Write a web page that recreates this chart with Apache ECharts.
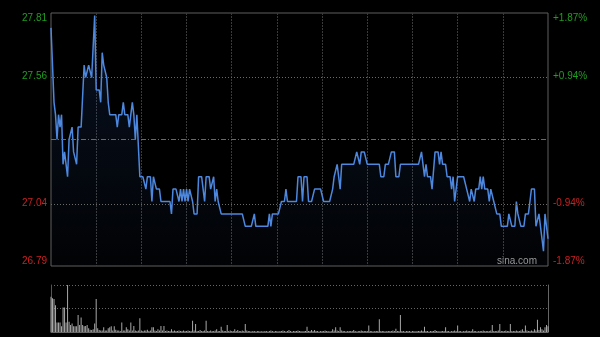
<!DOCTYPE html>
<html>
<head>
<meta charset="utf-8">
<script src="https://cdn.jsdelivr.net/npm/echarts@6/dist/echarts.min.js"></script>
<style>
html,body{margin:0;padding:0;background:#000;}
#chart{width:600px;height:337px;}
</style>
</head>
<body>
<div id="chart"></div>
<script>
const prevClose = 27.30;
const priceMin = 26.79;
const priceMax = 27.81;
const pctMin = -1.87;
const pctMax = 1.87;
const priceTickLabels = ['26.79', '27.04', '27.56', '27.81'];
const pctTickLabels = ['-1.87%', '-0.94%', '+0.94%', '+1.87%'];

const prices = [
27.75,27.60,27.45,27.40,27.30,27.40,27.35,27.40,27.20,27.25,
27.25,27.15,27.30,27.30,27.35,27.25,27.25,27.20,27.35,27.35,
27.35,27.35,27.60,27.55,27.55,27.60,27.60,27.55,27.55,27.80,
27.50,27.50,27.50,27.45,27.65,27.60,27.60,27.55,27.45,27.40,
27.40,27.40,27.40,27.40,27.35,27.40,27.40,27.40,27.45,27.40,
27.40,27.40,27.35,27.40,27.45,27.40,27.30,27.40,27.40,27.15,
27.15,27.15,27.15,27.10,27.15,27.15,27.15,27.05,27.15,27.15,
27.10,27.10,27.10,27.05,27.05,27.05,27.05,27.05,27.05,27.05,
27.00,27.10,27.10,27.10,27.10,27.05,27.10,27.05,27.10,27.05,
27.10,27.05,27.10,27.10,27.05,27.00,27.00,27.00,27.15,27.15,
27.15,27.15,27.05,27.15,27.15,27.15,27.10,27.10,27.15,27.05,
27.10,27.05,27.05,27.00,27.00,27.00,27.00,27.00,27.00,27.00,
27.00,27.00,27.00,27.00,27.00,27.00,27.00,27.00,27.00,26.95,
26.95,26.95,26.95,26.95,26.95,27.00,26.95,26.95,26.95,26.95,
26.95,26.95,26.95,26.95,26.95,27.00,26.95,27.00,27.00,27.00,
27.00,27.00,27.00,27.05,27.05,27.05,27.10,27.05,27.05,27.05,
27.05,27.05,27.05,27.05,27.15,27.15,27.15,27.05,27.15,27.15,
27.15,27.05,27.05,27.05,27.05,27.10,27.10,27.10,27.10,27.10,
27.10,27.05,27.05,27.05,27.05,27.05,27.05,27.10,27.15,27.15,
27.20,27.15,27.10,27.20,27.20,27.20,27.20,27.20,27.20,27.20,
27.20,27.20,27.20,27.25,27.25,27.20,27.25,27.25,27.25,27.25,
27.20,27.20,27.20,27.20,27.20,27.20,27.20,27.20,27.20,27.15,
27.15,27.15,27.20,27.20,27.20,27.20,27.25,27.25,27.25,27.15,
27.15,27.15,27.20,27.20,27.20,27.20,27.20,27.20,27.20,27.20,
27.20,27.20,27.20,27.20,27.20,27.20,27.25,27.20,27.15,27.20,
27.15,27.15,27.15,27.10,27.10,27.25,27.25,27.25,27.20,27.25,
27.20,27.20,27.20,27.15,27.15,27.15,27.10,27.15,27.05,27.10,
27.15,27.15,27.15,27.15,27.15,27.15,27.10,27.10,27.05,27.10,
27.10,27.05,27.10,27.10,27.10,27.15,27.10,27.15,27.10,27.10,
27.10,27.05,27.10,27.10,27.05,27.05,27.00,27.00,27.00,26.95,
26.95,26.95,26.95,26.95,27.00,27.00,26.95,26.95,26.95,27.05,
27.00,27.00,26.95,26.95,26.95,27.00,27.00,27.00,27.05,27.10,
27.10,27.10,26.95,26.95,27.00,26.95,26.90,26.85,27.00,26.95,
26.90
];

const volumes = [
75,72,70,57,20,20,20,12,52,52,
20,100,22,15,18,12,12,12,36,15,
31,15,12,13,15,8,5,4,6,18,
70,8,4,3,3,10,3,3,8,10,
12,3,12,5,3,3,2,20,3,3,
10,6,3,20,3,13,3,2,3,29,
3,2,3,3,5,2,3,10,10,3,
2,6,3,13,3,13,2,3,2,2,
6,2,3,2,2,3,2,2,3,2,
2,3,2,2,24,3,17,2,2,4,
2,2,3,24,2,2,3,2,2,3,
6,2,2,11,3,2,2,15,2,3,
2,2,6,2,4,2,2,3,2,17,
3,2,2,1,2,2,1,2,2,1,
2,1,2,2,1,2,3,2,1,2,
2,1,2,2,3,2,1,2,4,2,
1,2,2,2,3,2,2,1,2,2,
11,2,2,4,2,4,2,2,1,2,
2,2,3,2,2,1,2,6,3,10,
3,2,10,3,2,2,1,2,2,2,
2,4,2,1,2,2,3,2,2,2,
2,14,2,2,1,2,2,2,27,2,
2,2,1,2,2,2,2,3,2,7,
2,2,36,2,2,1,2,2,2,1,
2,2,1,2,2,2,3,2,11,2,
2,1,2,2,2,4,2,2,1,2,
2,2,10,2,2,1,2,2,3,2,
14,2,2,1,2,2,3,2,2,2,
6,2,2,1,2,2,2,3,2,2,
2,2,3,15,2,2,2,3,17,2,
2,2,3,2,2,17,2,2,2,3,
2,2,3,6,2,14,3,2,2,3,
2,6,3,26,4,10,6,3,10,15,
12
];

function hhmm(m){const h=Math.floor(m/60),mm=m%60;return (h<10?'0':'')+h+':'+(mm<10?'0':'')+mm;}
const times = [];
for (let m = 570; m <= 720; m++) times.push(hhmm(m));
for (let m = 781; m <= 960; m++) times.push(hhmm(m));

const GREEN = '#1f9e1f';
const RED = '#cc2020';
const q = (priceMax - priceMin) / 4;
const priceTickVals = [priceMin, priceMin + q, priceMax - q, priceMax];
const pq = (pctMax - pctMin) / 4;
const pctTickVals = [pctMin, pctMin + pq, pctMax - pq, pctMax];

function nearestIdx(arr, v){let b=0;for(let i=1;i<arr.length;i++){if(Math.abs(arr[i]-v)<Math.abs(arr[b]-v))b=i;}return b;}

const chart = echarts.init(document.getElementById('chart'));
chart.setOption({
  backgroundColor: '#000',
  animation: false,
  grid: [
    {left: 51, right: 52, top: 13, height: 253, show: true, borderColor: '#5e5e5e', borderWidth: 1, backgroundColor: 'transparent'},
    {left: 51, right: 52, top: 285, height: 47}
  ],
  xAxis: [
    {type: 'category', gridIndex: 0, data: times, boundaryGap: false,
     axisLine: {show: false}, axisTick: {show: false}, axisLabel: {show: false},
     splitLine: {show: true, interval: function(i){return i % 30 === 0 && i > 0 && i < 330;},
       lineStyle: {color: '#3a3a3a', type: [2, 1], width: 1}}},
    {type: 'category', gridIndex: 1, data: times, boundaryGap: false,
     axisLine: {show: true, lineStyle: {color: '#666'}}, axisTick: {show: false}, axisLabel: {show: false},
     splitLine: {show: false}}
  ],
  yAxis: [
    {type: 'value', gridIndex: 0, min: priceMin, max: priceMax, position: 'left',
     axisLine: {show: false}, axisTick: {show: false}, splitLine: {show: false},
     axisLabel: {show: true, customValues: priceTickVals, margin: 4, fontSize: 10, fontFamily: 'Arial',
       verticalAlignMinLabel: 'bottom', verticalAlignMaxLabel: 'top',
       formatter: function(v){return priceTickLabels[nearestIdx(priceTickVals, v)];},
       color: function(v){return parseFloat(v) > prevClose ? GREEN : RED;}}},
    {type: 'value', gridIndex: 0, min: pctMin, max: pctMax, position: 'right',
     axisLine: {show: false}, axisTick: {show: false}, splitLine: {show: false},
     axisLabel: {show: true, customValues: pctTickVals, margin: 5, fontSize: 10, fontFamily: 'Arial',
       verticalAlignMinLabel: 'bottom', verticalAlignMaxLabel: 'top',
       formatter: function(v){return pctTickLabels[nearestIdx(pctTickVals, v)];},
       color: function(v){return parseFloat(v) > 0 ? GREEN : RED;}}},
    {type: 'value', gridIndex: 1, min: 0, max: 100, interval: 50, position: 'right',
     axisLine: {show: true, lineStyle: {color: '#666'}}, axisTick: {show: false}, axisLabel: {show: false},
     splitLine: {show: true, lineStyle: {color: '#666', type: [1, 2]}}},
    {type: 'value', gridIndex: 1, min: 0, max: 100, position: 'left',
     axisLine: {show: true, lineStyle: {color: '#555'}}, axisTick: {show: false}, axisLabel: {show: false},
     splitLine: {show: false}}
  ],
  series: [
    {type: 'line', xAxisIndex: 0, yAxisIndex: 0, data: prices, showSymbol: false, symbol: 'none',
     lineStyle: {color: '#4d88de', width: 1.5},
     areaStyle: {origin: 'start', color: new echarts.graphic.LinearGradient(0, 0, 0, 1, [
       {offset: 0, color: 'rgba(45,90,170,0.28)'}, {offset: 1, color: 'rgba(45,90,170,0.04)'}])},
     markLine: {silent: true, symbol: 'none', label: {show: false}, animation: false,
       data: [
         {yAxis: priceMin + q, lineStyle: {color: '#6a6a6a', type: [1, 2], width: 1}},
         {yAxis: priceMax - q, lineStyle: {color: '#6a6a6a', type: [1, 2], width: 1}},
         {yAxis: prevClose, lineStyle: {color: '#6a6a6a', type: [5, 2, 1, 2], width: 1}}
       ]}},
    {type: 'bar', xAxisIndex: 1, yAxisIndex: 2, data: volumes, barWidth: 1,
     itemStyle: {color: '#a8a8a8'}}
  ],
  graphic: [
    {type: 'text', x: 537, y: 266, silent: true,
     style: {text: 'sina.com', fill: '#9a9a9a', font: '10px Arial', align: 'right', verticalAlign: 'bottom'}}
  ]
});
</script>
</body>
</html>
